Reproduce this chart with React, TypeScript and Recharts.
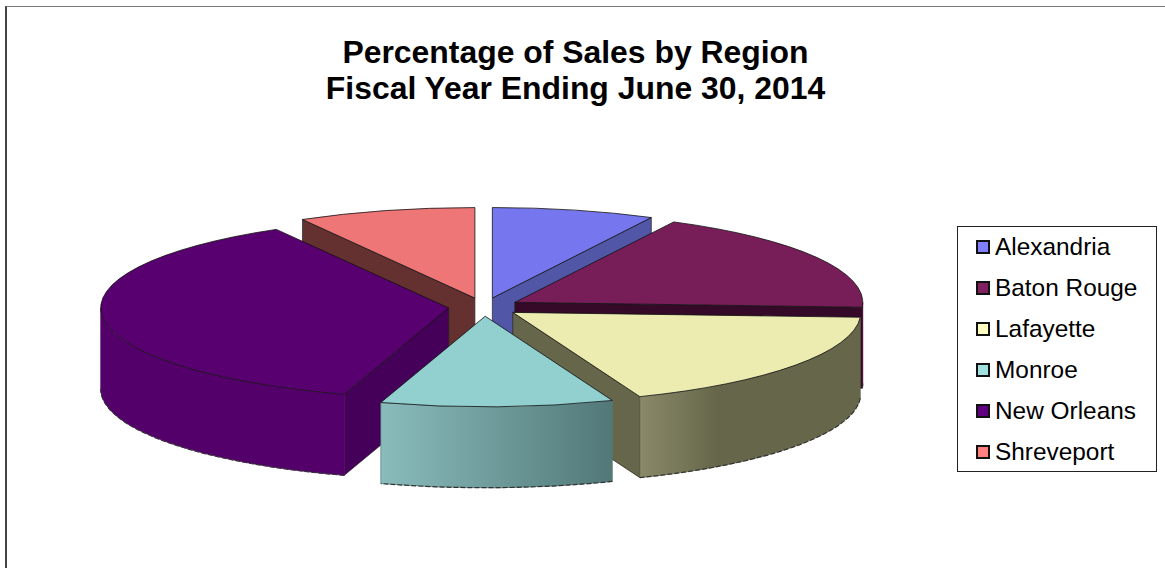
import React from 'react';
import { PieChart, Pie, Legend } from 'recharts';

const regions = ['Alexandria', 'Baton Rouge', 'Lafayette', 'Monroe', 'New Orleans', 'Shreveport'];
const shares = [7.55, 18.3, 18.2, 10.8, 36.9, 8.25];
const legendColors = ['#8080ff', '#802060', '#ffffc0', '#a0e0e0', '#600080', '#ff8080'];
const topColors = ['#7676ee', '#771d58', '#ecebb0', '#92cfcf', '#58006f', '#ef7676'];
const wallColors = ['#5256a6', '#340a28', '#66664a', '#527878', '#45005a', '#653030'];
const rimFrom = ['#5256a6', '#4a1038', '#8a8a6a', '#8abcbc', '#54006a', '#653030'];
const rimTo = ['#5256a6', '#4a1038', '#66664a', '#527878', '#54006a', '#653030'];
// back slices get painted first so the front ones cover them
const paintOrder = [5, 0, 1, 4, 2, 3];

const data = regions.map((name, i) => ({ name, value: shares[i] }));

const TILT = 0.26;
const DEPTH = 81;
const EXPLODE = 0.102;

const rad = (a: number) => (a * Math.PI) / 180;

const SliceShape = (props: any) => {
  const { cx, cy, outerRadius, startAngle, endAngle, index } = props;
  const mid = (startAngle + endAngle) / 2;
  const ox = cx + outerRadius * EXPLODE * Math.cos(rad(mid));
  const oy = cy - outerRadius * EXPLODE * TILT * Math.sin(rad(mid));
  const rx = outerRadius;
  const ry = outerRadius * TILT;
  const px = (a: number) => ox + rx * Math.cos(rad(a));
  const py = (a: number) => oy - ry * Math.sin(rad(a));
  const large = Math.abs(startAngle - endAngle) > 180 ? 1 : 0;

  const top = `M${ox},${oy} L${px(startAngle)},${py(startAngle)} A${rx},${ry} 0 ${large} 1 ${px(endAngle)},${py(endAngle)} Z`;
  const wall = (a: number) =>
    `M${ox},${oy} L${px(a)},${py(a)} L${px(a)},${py(a) + DEPTH} L${ox},${oy + DEPTH} Z`;

  const hi = Math.min(startAngle, 0);
  const lo = Math.max(endAngle, -180);
  const hasRim = hi > lo;
  const rim = hasRim
    ? `M${px(hi)},${py(hi)} A${rx},${ry} 0 0 1 ${px(lo)},${py(lo)} L${px(lo)},${py(lo) + DEPTH} A${rx},${ry} 0 0 0 ${px(hi)},${py(hi) + DEPTH} Z`
    : null;
  const bottomEdge = hasRim
    ? `M${px(hi)},${py(hi) + DEPTH} A${rx},${ry} 0 0 1 ${px(lo)},${py(lo) + DEPTH}`
    : null;
  const gradId = `rim-${index}`;
  const x1 = hasRim ? Math.min(px(hi), px(lo)) : 0;
  const x2 = hasRim ? Math.max(px(hi), px(lo)) : 1;

  return (
    <g>
      <defs>
        <linearGradient id={gradId} gradientUnits="userSpaceOnUse" x1={x1} x2={x2} y1={0} y2={0}>
          <stop offset="0%" stopColor={rimFrom[index]} />
          <stop offset={index === 2 ? '35%' : '100%'} stopColor={rimTo[index]} />
        </linearGradient>
      </defs>
      {Math.cos(rad(startAngle)) < -0.001 && (
        <path d={wall(startAngle)} fill={wallColors[index]} stroke="#222" strokeWidth={0.7} />
      )}
      {Math.cos(rad(endAngle)) > 0.001 && (
        <path d={wall(endAngle)} fill={wallColors[index]} stroke="#222" strokeWidth={0.7} />
      )}
      {rim && <path d={rim} fill={`url(#${gradId})`} stroke={rimTo[index]} strokeWidth={0.7} />}
      {bottomEdge && <path d={bottomEdge} fill="none" stroke="#333" strokeWidth={1.2} strokeDasharray="5 2" />}
      <path d={top} fill={topColors[index]} stroke="#111" strokeWidth={0.8} />
    </g>
  );
};

const RegionLegend = () => (
  <div
    style={{
      width: 198,
      height: 244,
      border: '1px solid #222',
      background: '#fff',
      boxSizing: 'content-box',
      fontFamily: '"Liberation Sans", Arial, sans-serif',
      fontSize: 24.4,
      color: '#000',
      position: 'relative',
    }}
  >
    {regions.map((r, i) => (
      <div key={r} style={{ position: 'absolute', left: 18, top: 6 + i * 41, height: 27, display: 'flex', alignItems: 'center' }}>
        <span
          style={{
            display: 'inline-block',
            width: 10,
            height: 10,
            border: '2px solid #111',
            background: legendColors[i],
            marginRight: 5,
          }}
        />
        <span>{r}</span>
      </div>
    ))}
  </div>
);

export default function App() {
  return (
    <div style={{ position: 'fixed', left: 0, top: 0, width: 1165, height: 568, background: '#fff', overflow: 'hidden' }}>
      <div
        style={{
          position: 'absolute',
          left: 5,
          top: 6,
          width: 1165,
          height: 568,
          borderTop: '1.5px solid #777',
          borderLeft: '2px solid #444',
        }}
      />
      <PieChart width={1165} height={568} margin={{ top: 0, right: 0, bottom: 0, left: 0 }} style={{ position: 'absolute', left: 0, top: 0 }}>
        <text x={575.5} y={62.5} textAnchor="middle" fontFamily='"Liberation Sans", Arial, sans-serif' fontWeight="bold" fontSize={31.9}>
          Percentage of Sales by Region
        </text>
        <text x={575.5} y={99} textAnchor="middle" fontFamily='"Liberation Sans", Arial, sans-serif' fontWeight="bold" fontSize={31.9}>
          Fiscal Year Ending June 30, 2014
        </text>
        {paintOrder.map((rank) => (
          <Pie
            key={rank}
            data={data}
            dataKey="value"
            nameKey="name"
            cx={484}
            cy={307}
            outerRadius={348}
            startAngle={90}
            endAngle={-270}
            paddingAngle={0}
            stroke="none"
            legendType="none"
            isAnimationActive={false}
            rootTabIndex={-1}
            shape={(props: any) => (props.index === rank ? <SliceShape {...props} /> : <g />)}
          />
        ))}
        <Legend
          layout="vertical"
          align="right"
          verticalAlign="top"
          content={<RegionLegend />}
          wrapperStyle={{ position: 'absolute', left: 957, top: 226, width: 200, height: 246 }}
        />
      </PieChart>
    </div>
  );
}
